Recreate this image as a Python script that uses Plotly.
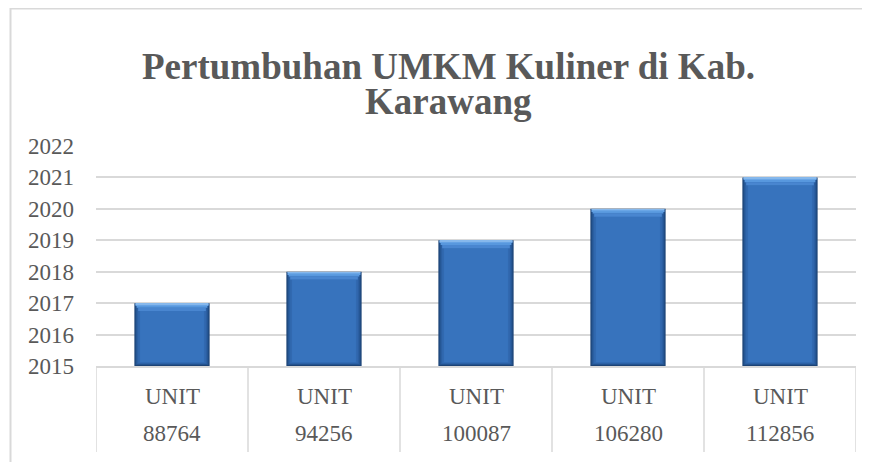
import plotly.graph_objects as go

# ---- data ----
unit_counts = ["88764", "94256", "100087", "106280", "112856"]
unit_label = ["UNIT", "UNIT", "UNIT", "UNIT", "UNIT"]
years = [2017, 2018, 2019, 2020, 2021]
y_ticks = [2015, 2016, 2017, 2018, 2019, 2020, 2021, 2022]
title_lines = ["Pertumbuhan UMKM Kuliner di Kab.", "Karawang"]

# ---- layout constants (page body has an 8px margin) ----
OFF = 8
W, H = 870 - OFF, 462 - OFF
ML, MR, MT, MB = 96 - OFF, 14, 146 - OFF, 96
PW, PH = W - ML - MR, H - MT - MB
FONT = "Liberation Serif, Times New Roman, serif"
TXT = "#595959"
GRID = "#d9d9d9"
YMIN, YMAX = y_ticks[0], y_ticks[-1]


def py(ref_y):
    """reference pixel y -> paper y"""
    return (H - MB - (ref_y - OFF)) / PH


def px(ref_x):
    """reference pixel x -> paper x"""
    return ((ref_x - OFF) - ML) / PW


n = len(years)
xs = list(range(n))

fig = go.Figure()


def body(width, color, top_off=0.0, bot_off=0.0):
    fig.add_trace(go.Bar(
        x=xs, y=[v - top_off - (YMIN + bot_off) for v in years],
        base=[YMIN + bot_off] * n, width=width,
        marker=dict(color=color, line=dict(width=0)),
        hoverinfo="skip", showlegend=False,
    ))


def strip(width, color, from_top, height):
    fig.add_trace(go.Bar(
        x=xs, y=[height] * n, base=[v - from_top for v in years], width=width,
        marker=dict(color=color, line=dict(width=0)),
        hoverinfo="skip", showlegend=False,
    ))


# bevelled blue bars built up from layered bars
body(0.495, "#1c4375")                          # dark outline
body(0.48, "#24538f", top_off=0.02, bot_off=0.03)
body(0.465, "#2b5fa2", top_off=0.05, bot_off=0.06)
body(0.445, "#3169b0", top_off=0.12, bot_off=0.09)
body(0.42, "#3773bd", top_off=0.25, bot_off=0.12)   # main face
# top bevel (trapezoid-ish, lighter towards top)
strip(0.48, "#6aa6e6", 0.08, 0.06)
strip(0.465, "#5898de", 0.15, 0.07)
strip(0.445, "#4986d0", 0.25, 0.10)
strip(0.48, "#86b8ec", 0.03, 0.015)

# category labels (two rows) under the plot
for i in xs:
    fig.add_annotation(x=i, xref="x", y=py(396), yref="paper",
                       text=unit_label[i], showarrow=False,
                       font=dict(family=FONT, size=23, color=TXT),
                       xanchor="center", yanchor="middle")
    fig.add_annotation(x=i, xref="x", y=py(433), yref="paper",
                       text=unit_counts[i], showarrow=False,
                       font=dict(family=FONT, size=23, color=TXT),
                       xanchor="center", yanchor="middle")

# table dividers
for k in range(n + 1):
    fig.add_shape(type="line", xref="x", yref="paper",
                  x0=k - 0.5, x1=k - 0.5, y0=0, y1=py(452),
                  line=dict(color=GRID, width=1.5))

# title
fig.add_annotation(x=px(448), xref="paper", y=py(66), yref="paper",
                   text="<b>" + title_lines[0] + "</b>", showarrow=False,
                   font=dict(family=FONT, size=37, color=TXT),
                   xanchor="center", yanchor="middle")
fig.add_annotation(x=px(448), xref="paper", y=py(101), yref="paper",
                   text="<b>" + title_lines[1] + "</b>", showarrow=False,
                   font=dict(family=FONT, size=37, color=TXT),
                   xanchor="center", yanchor="middle")

# chart border (left and top visible)
fig.add_shape(type="rect", xref="paper", yref="paper",
              x0=px(10.5), x1=px(890), y0=py(490), y1=py(8.5),
              line=dict(color=GRID, width=2), fillcolor="rgba(0,0,0,0)", layer="below")

fig.update_layout(
    width=W, height=H,
    margin=dict(l=ML, r=MR, t=MT, b=MB, pad=0),
    paper_bgcolor="white", plot_bgcolor="white",
    barmode="overlay",
    showlegend=False,
    xaxis=dict(range=[-0.5, n - 0.5], showticklabels=False, showgrid=False,
               zeroline=False, showline=True, linecolor=GRID, linewidth=1.5,
               fixedrange=True),
    yaxis=dict(range=[YMIN, YMAX], tickvals=y_ticks, ticktext=[str(t) for t in y_ticks],
               showgrid=True, gridcolor=GRID, gridwidth=1.5, zeroline=False,
               showline=False, ticks="", ticklabelstandoff=21,
               tickfont=dict(family=FONT, size=23, color=TXT), fixedrange=True),
)

fig.write_html("out.html")
